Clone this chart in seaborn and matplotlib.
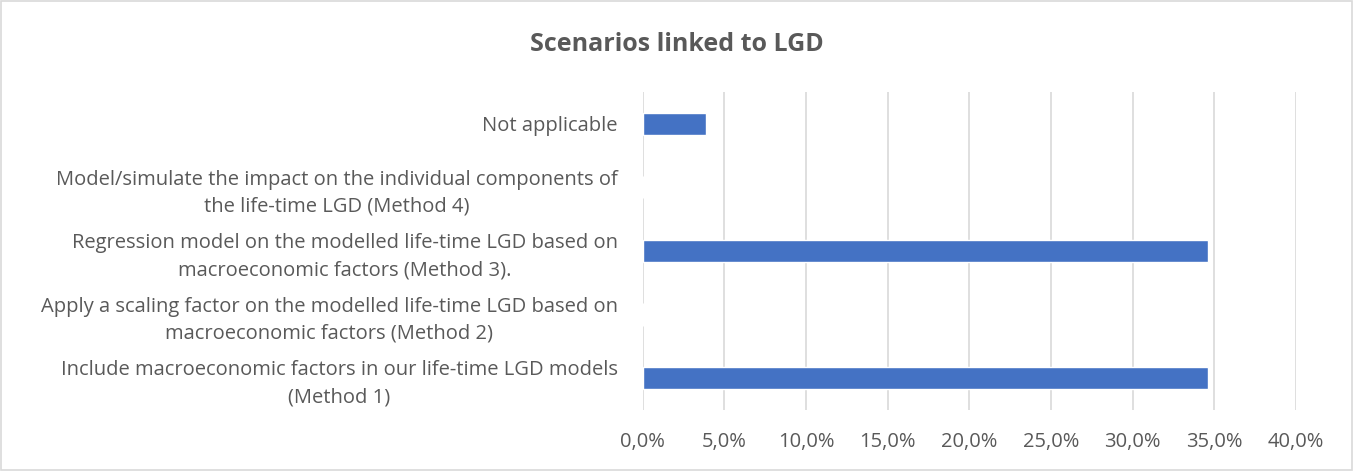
import pandas as pd
import numpy as np
import matplotlib.pyplot as plt
import seaborn as sns
from matplotlib.ticker import FuncFormatter

# Data
categories = [
    "Not applicable",
    "Model/simulate the impact on the individual components of\nthe life-time LGD (Method 4)",
    "Regression model on the modelled life-time LGD based on\nmacroeconomic factors (Method 3).",
    "Apply a scaling factor on the modelled life-time LGD based on\nmacroeconomic factors (Method 2)",
    "Include macroeconomic factors in our life-time LGD models\n(Method 1)",
]
shares = [0.0385, 0.0, 0.346, 0.0, 0.346]
x_ticks = [0.0, 0.05, 0.10, 0.15, 0.20, 0.25, 0.30, 0.35, 0.40]

sns.set_theme(style="white")
plt.rcParams['font.family'] = ['Open Sans', 'DejaVu Sans']
text_color = '#595959'
bar_color = '#4472c4'
grid_color = '#d9d9d9'

df = pd.DataFrame({"category": categories, "share": shares})

fig = plt.figure(figsize=(13.53, 4.71), dpi=100, facecolor='white')
ax = fig.add_axes([0.475, 0.130, 0.483, 0.675])

sns.barplot(data=df, y="category", x="share", order=categories,
            color=bar_color, saturation=1, width=0.35, ax=ax, zorder=3)

ax.set_xlim(0, 0.40)
ax.set_xticks(x_ticks)
ax.xaxis.set_major_formatter(FuncFormatter(lambda v, _: f"{v*100:.1f}%".replace('.', ',')))
ax.grid(axis='x', color=grid_color, linewidth=1.2, zorder=0)
ax.grid(axis='y', visible=False)
for s in ax.spines.values():
    s.set_visible(False)

ax.set_xlabel('')
ax.set_ylabel('')
ax.tick_params(axis='x', colors=text_color, labelsize=14.5, length=0, pad=16)
ax.tick_params(axis='y', colors=text_color, labelsize=14.5, length=0, pad=18)
for lbl in ax.get_yticklabels():
    lbl.set_horizontalalignment('right')
    lbl.set_multialignment('center')
    lbl.set_linespacing(1.45)

fig.text(0.5, 0.905, "Scenarios linked to LGD", ha='center', va='center',
         fontsize=18, fontweight='bold', color=text_color)

# light frame around the chart area
fig.patches.append(plt.Rectangle((0.001, 0.002), 0.998, 0.996, transform=fig.transFigure,
                                 fill=False, edgecolor=grid_color, linewidth=1.2))

plt.savefig('out.png', dpi=100, facecolor='white')
